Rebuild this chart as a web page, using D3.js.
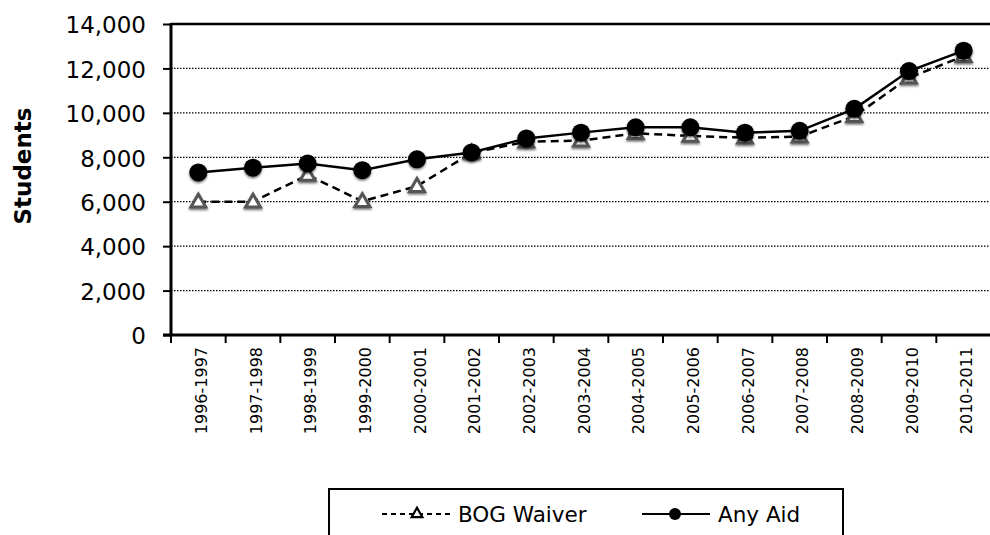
<html>
  <head>
    <script src="https://d3js.org/d3.v7.min.js"></script>
    <style>
      body{ margin: 0; background: #fff; }
      text{ font-family: "DejaVu Sans", Verdana, sans-serif; fill: #000; }
    </style>
  </head>
  <body>
    <svg width="990" height="535"></svg>
    <script>
    // chart values
    var years = ["1996-1997","1997-1998","1998-1999","1999-2000","2000-2001","2001-2002","2002-2003",
                 "2003-2004","2004-2005","2005-2006","2006-2007","2007-2008","2008-2009","2009-2010","2010-2011"];
    var bogWaiver = [6000, 6000, 7200, 6020, 6700, 8200, 8700, 8750, 9080, 8960, 8880, 8930, 9850, 11580, 12550];
    var anyAid    = [7320, 7530, 7720, 7420, 7910, 8220, 8850, 9110, 9350, 9350, 9110, 9190, 10180, 11880, 12800];
    var yTicks = [0, 2000, 4000, 6000, 8000, 10000, 12000, 14000];

    var svg = d3.select("svg");
    var plotL = 171, plotR = 991, plotT = 24, plotB = 335;

    var x = d3.scalePoint().domain(years).range([plotL, plotR]).padding(0.5);
    var band = (plotR - plotL) / years.length;
    var y = d3.scaleLinear().domain([0, 14000]).range([plotB, plotT]);

    // soft shadow for markers
    var defs = svg.append("defs");
    var f = defs.append("filter").attr("id", "shadow").attr("x", "-50%").attr("y", "-50%").attr("width", "200%").attr("height", "200%");
    f.append("feDropShadow").attr("dx", 0).attr("dy", 1.5).attr("stdDeviation", 1.3).attr("flood-color", "#000").attr("flood-opacity", 0.6);

    // gridlines
    svg.append("g").selectAll("line").data(yTicks.slice(1))
      .enter().append("line")
        .attr("x1", plotL).attr("x2", plotR)
        .attr("y1", function(d){ return y(d); }).attr("y2", function(d){ return y(d); })
        .attr("stroke", "#000").attr("stroke-width", 1.2)
        .attr("stroke-dasharray", "1.5,1.5");
    svg.append("line").attr("x1", plotL).attr("x2", plotR).attr("y1", y(14000)).attr("y2", y(14000))
      .attr("stroke", "#000").attr("stroke-width", 2.5);

    // y axis
    var yAxis = svg.append("g").attr("transform", "translate(" + plotL + ",0)")
      .call(d3.axisLeft(y).tickValues(yTicks).tickSize(8).tickPadding(17).tickFormat(d3.format(",")));
    yAxis.select(".domain").attr("stroke-width", 3).attr("d", "M0," + (plotB + 1) + "V" + (plotT - 1));
    yAxis.selectAll(".tick line").attr("stroke-width", 2);
    yAxis.selectAll("text").style("font-size", "23px").attr("dy", "0.38em");

    // x axis with ticks between categories
    var xg = svg.append("g");
    xg.append("line").attr("x1", plotL - 8).attr("x2", plotR).attr("y1", plotB).attr("y2", plotB)
      .attr("stroke", "#000").attr("stroke-width", 3);
    xg.selectAll(".xt").data(d3.range(years.length + 1)).enter().append("line")
      .attr("x1", function(i){ return plotL + i * band; }).attr("x2", function(i){ return plotL + i * band; })
      .attr("y1", plotB).attr("y2", plotB + 8)
      .attr("stroke", "#000").attr("stroke-width", 2);
    xg.selectAll("text").data(years).enter().append("text")
      .attr("transform", function(d){ return "translate(" + (x(d) + 3) + ",347) rotate(-90)"; })
      .attr("text-anchor", "end").attr("dy", "0.35em")
      .style("font-size", "16px")
      .text(function(d){ return d; });

    // y title
    svg.append("text").attr("transform", "translate(23,166) rotate(-90)")
      .attr("text-anchor", "middle").attr("dy", "0.35em")
      .style("font-size", "23px").style("font-weight", "bold")
      .text("Students");

    var line = d3.line().x(function(d, i){ return x(years[i]); }).y(function(d){ return y(d); });

    var tri = d3.symbol().type(d3.symbolTriangle).size(95);

    // BOG waiver
    svg.append("path").datum(bogWaiver).attr("d", line)
      .attr("fill", "none").attr("stroke", "#000").attr("stroke-width", 2.5).attr("stroke-dasharray", "8,5");
    svg.append("g").attr("filter", "url(#shadow)").selectAll("path").data(bogWaiver).enter().append("path")
      .attr("d", tri)
      .attr("transform", function(d, i){ return "translate(" + x(years[i]) + "," + (y(d) + 1) + ")"; })
      .attr("fill", "#fff").attr("stroke", "#555").attr("stroke-width", 3);

    // any aid
    svg.append("path").datum(anyAid).attr("d", line)
      .attr("fill", "none").attr("stroke", "#000").attr("stroke-width", 2.5);
    svg.append("g").attr("filter", "url(#shadow)").selectAll("circle").data(anyAid).enter().append("circle")
      .attr("cx", function(d, i){ return x(years[i]); })
      .attr("cy", function(d){ return y(d); })
      .attr("r", 9).attr("fill", "#000");

    // legend
    var lg = svg.append("g");
    lg.append("rect").attr("x", 329).attr("y", 489).attr("width", 514).attr("height", 70)
      .attr("fill", "#fff").attr("stroke", "#000").attr("stroke-width", 2);
    lg.append("line").attr("x1", 382).attr("x2", 452).attr("y1", 514).attr("y2", 514)
      .attr("stroke", "#000").attr("stroke-width", 2).attr("stroke-dasharray", "5,4");
    lg.append("path").attr("d", d3.symbol().type(d3.symbolTriangle).size(50))
      .attr("transform", "translate(417,514)")
      .attr("fill", "#fff").attr("stroke", "#000").attr("stroke-width", 2.2);
    lg.append("text").attr("x", 458).attr("y", 514).attr("dy", "0.36em").style("font-size", "21.5px").text("BOG Waiver");
    lg.append("line").attr("x1", 642).attr("x2", 710).attr("y1", 514).attr("y2", 514)
      .attr("stroke", "#000").attr("stroke-width", 2);
    lg.append("circle").attr("cx", 675).attr("cy", 514).attr("r", 6).attr("fill", "#000");
    lg.append("text").attr("x", 718).attr("y", 514).attr("dy", "0.36em").style("font-size", "21.5px").text("Any Aid");
    </script>
  </body>
</html>
